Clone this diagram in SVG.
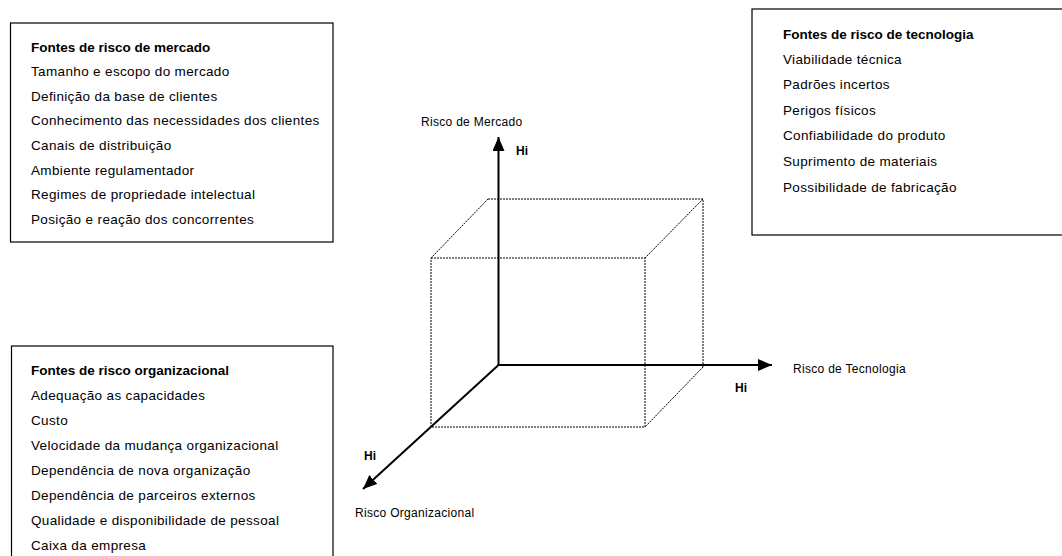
<svg xmlns="http://www.w3.org/2000/svg" width="1062" height="556" viewBox="0 0 1062 556">
  <style>
    .box { fill: #ffffff; stroke: #000000; stroke-width: 1.2; }
    .item { font-family: "Liberation Sans", Arial, sans-serif; font-size: 13.5px; letter-spacing: 0.35px; fill: #000000; }
    .head { font-family: "Liberation Sans", Arial, sans-serif; font-size: 13.5px; font-weight: bold; letter-spacing: 0px; fill: #000000; }
    .label { font-family: "Liberation Sans", Arial, sans-serif; font-size: 12px; letter-spacing: 0.3px; fill: #000000; }
    .hi { font-family: "Liberation Sans", Arial, sans-serif; font-size: 12px; font-weight: bold; fill: #000000; }
    .axis { stroke: #000000; stroke-width: 2; fill: none; }
    .edge { stroke: #000000; stroke-width: 1; stroke-dasharray: 2 1; fill: none; }
  </style>
  <defs>
    <marker id="arrow" markerUnits="userSpaceOnUse" markerWidth="14" markerHeight="12" refX="14" refY="6" orient="auto">
      <path d="M0,0 L14,6 L0,12 Z" fill="#000000"/>
    </marker>
  </defs>
  <rect width="1062" height="556" fill="#ffffff"/>

  <!-- market risk sources -->
  <g id="box-mercado">
    <rect class="box" x="10.5" y="23" width="322.5" height="219"/>
    <text class="head" x="31" y="51.5">Fontes de risco de mercado</text>
    <text class="item" x="31" y="76">Tamanho e escopo do mercado</text>
    <text class="item" x="31" y="100.5">Definição da base de clientes</text>
    <text class="item" x="31" y="125">Conhecimento das necessidades dos clientes</text>
    <text class="item" x="31" y="149.5">Canais de distribuição</text>
    <text class="item" x="31" y="174.5">Ambiente regulamentador</text>
    <text class="item" x="31" y="199">Regimes de propriedade intelectual</text>
    <text class="item" x="31" y="224">Posição e reação dos concorrentes</text>
  </g>

  <!-- technology risk sources -->
  <g id="box-tecnologia">
    <rect class="box" x="752" y="9" width="330" height="226"/>
    <text class="head" x="783" y="38.5">Fontes de risco de tecnologia</text>
    <text class="item" x="783" y="63.5">Viabilidade técnica</text>
    <text class="item" x="783" y="89">Padrões incertos</text>
    <text class="item" x="783" y="114.5">Perigos físicos</text>
    <text class="item" x="783" y="140">Confiabilidade do produto</text>
    <text class="item" x="783" y="165.5">Suprimento de materiais</text>
    <text class="item" x="783" y="191.5">Possibilidade de fabricação</text>
  </g>

  <!-- organizational risk sources -->
  <g id="box-organizacional">
    <rect class="box" x="11.5" y="346" width="321.5" height="230"/>
    <text class="head" x="31" y="375">Fontes de risco organizacional</text>
    <text class="item" x="31" y="400">Adequação as capacidades</text>
    <text class="item" x="31" y="425">Custo</text>
    <text class="item" x="31" y="450">Velocidade da mudança organizacional</text>
    <text class="item" x="31" y="475">Dependência de nova organização</text>
    <text class="item" x="31" y="500">Dependência de parceiros externos</text>
    <text class="item" x="31" y="525">Qualidade e disponibilidade de pessoal</text>
    <text class="item" x="31" y="550">Caixa da empresa</text>
  </g>

  <!-- dotted cube -->
  <g id="cube">
    <path class="edge" d="M488,199 H703 V367"/>
    <path class="edge" d="M488,199 L431,258"/>
    <path class="edge" d="M703,199 L645,258"/>
    <path class="edge" d="M703,367 L645,427"/>
    <rect class="edge" x="431" y="258" width="214" height="169"/>
  </g>

  <!-- axes -->
  <g id="connectors">
    <line class="axis" x1="498.5" y1="365" x2="498.5" y2="137" marker-end="url(#arrow)"/>
    <line class="axis" x1="498.5" y1="365" x2="772" y2="365" marker-end="url(#arrow)"/>
    <line class="axis" x1="498.5" y1="365" x2="363" y2="489" marker-end="url(#arrow)"/>
  </g>

  <g id="axis-labels">
    <text class="label" x="421" y="126">Risco de Mercado</text>
    <text class="hi" x="516" y="155">Hi</text>
    <text class="label" x="793" y="373">Risco de Tecnologia</text>
    <text class="hi" x="735" y="392">Hi</text>
    <text class="hi" x="364" y="460">Hi</text>
    <text class="label" x="355" y="517">Risco Organizacional</text>
  </g>
</svg>
